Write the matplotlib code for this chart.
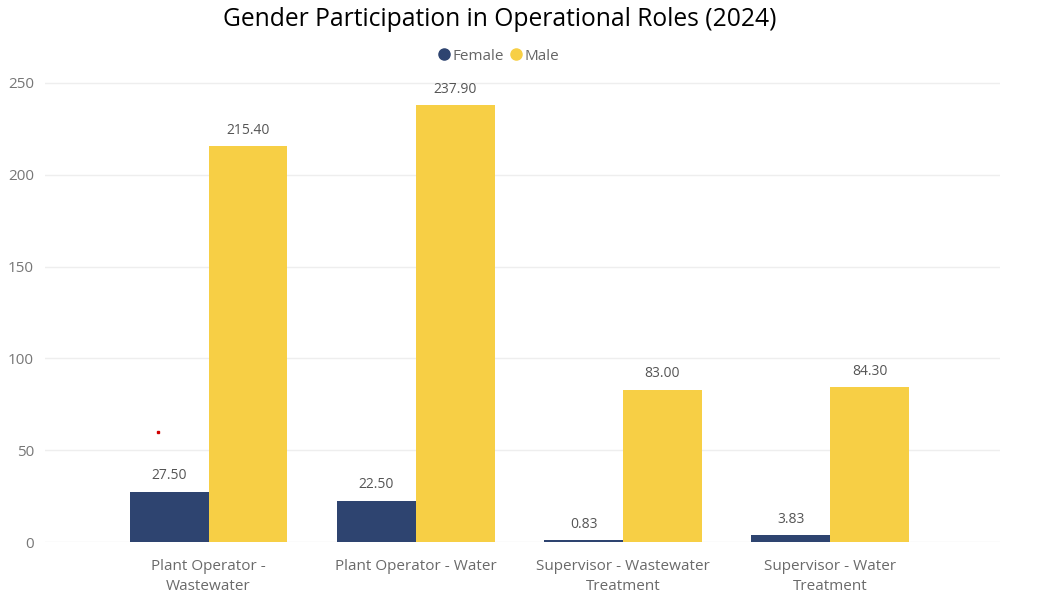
import numpy as np
import matplotlib
matplotlib.use('Agg')
import matplotlib.pyplot as plt
from matplotlib.lines import Line2D

plt.rcParams['font.family'] = ['Open Sans', 'DejaVu Sans']

# データ
categories = ['Plant Operator -\nWastewater', 'Plant Operator - Water',
              'Supervisor - Wastewater\nTreatment', 'Supervisor - Water\nTreatment']
female = [27.50, 22.50, 0.83, 3.83]
male = [215.40, 237.90, 83.00, 84.30]
y_ticks = [0, 50, 100, 150, 200, 250]

female_color = '#2E4470'
male_color = '#F7CF45'

fig = plt.figure(figsize=(10.39, 6.11), dpi=100)
ax = fig.add_axes([45 / 1039, 69 / 611, 955 / 1039, 460 / 611])

x = np.arange(len(categories))
w = 0.38
ax.bar(x - w / 2, female, w, color=female_color)
ax.bar(x + w / 2, male, w, color=male_color)

# 値ラベル
for xi, v in zip(x - w / 2, female):
    ax.annotate(f'{v:.2f}', (xi, v), xytext=(0, 6), textcoords='offset points',
                ha='center', va='bottom', fontsize=10, color='#555555')
for xi, v in zip(x + w / 2, male):
    ax.annotate(f'{v:.2f}', (xi, v), xytext=(0, 6), textcoords='offset points',
                ha='center', va='bottom', fontsize=10, color='#555555')

# 小さな赤い点（元画像にある）
ax.plot([-0.245], [60], marker='s', markersize=1.6, color='#d00000', linestyle='none')

ax.set_xlim(-0.79, 3.82)
ax.set_ylim(0, 250.5)
ax.set_yticks(y_ticks)
ax.set_xticks(x)
ax.set_xticklabels(categories, fontsize=11, color='#6a6a6a', linespacing=1.45)
ax.tick_params(axis='y', labelsize=11, labelcolor='#777777', length=0, pad=8)
ax.tick_params(axis='x', length=0, pad=12)
ax.grid(axis='y', color='#eeeeee', linewidth=1)
ax.set_axisbelow(True)
for s in ax.spines.values():
    s.set_visible(False)

fig.text(500 / 1039, 1 - 19 / 611, 'Gender Participation in Operational Roles (2024)',
         ha='center', va='center', fontsize=17.7, color='#000000')

handles = [Line2D([0], [0], marker='o', linestyle='none', markersize=8, color=female_color),
           Line2D([0], [0], marker='o', linestyle='none', markersize=8, color=male_color)]
fig.legend(handles, ['Female', 'Male'], loc='center', bbox_to_anchor=(499 / 1039, 1 - 56 / 611),
           ncol=2, frameon=False, fontsize=11, handlelength=0.7, handletextpad=0.2,
           columnspacing=0.4, labelcolor='#666666')

fig.savefig('out.png', dpi=100)
